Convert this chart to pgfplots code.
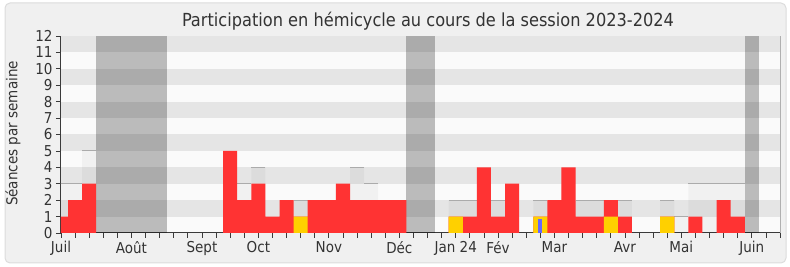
\documentclass[border=0pt]{standalone}
\usepackage{pgfplots}
\pgfplotsset{compat=1.18}
\usepackage{pgfplotstable}
\usepackage{fontspec}
\setmainfont{DejaVu Sans Condensed}
\definecolor{bgc}{HTML}{F0F0F0}
\definecolor{framec}{HTML}{DCDCDC}
\definecolor{txt}{HTML}{333333}
\definecolor{axc}{HTML}{3A3A3A}
\definecolor{stripeg}{HTML}{E5E5E5}
\definecolor{stripew}{HTML}{FAFAFA}
\definecolor{redbar}{HTML}{FF3333}
\definecolor{yelbar}{HTML}{FFD000}
\definecolor{blubar}{HTML}{6666FF}
\definecolor{linec}{HTML}{ABABAB}
% w: week index from 1 July 2023; tot: total seances; ln: visible top line of total
\pgfplotstableread{
w tot ln red yel blu
0 3 3 1 nan nan
1 3 3 2 nan nan
2 5 5 3 nan nan
12 5 nan 5 nan nan
13 3 3 2 nan nan
14 4 4 3 nan nan
15 1 nan 1 nan nan
16 2 nan 2 nan nan
17 2 2 1 1 nan
18 2 nan 2 nan nan
19 2 nan 2 nan nan
20 3 nan 3 nan nan
21 4 4 2 nan nan
22 3 3 2 nan nan
23 2 nan 2 nan nan
24 2 nan 2 nan nan
28 2 2 1 1 nan
29 2 2 1 nan nan
30 4 nan 4 nan nan
31 2 2 1 nan nan
32 3 nan 3 nan nan
34 2 2 1 1 0.85
35 2 nan 2 nan nan
36 4 nan 4 nan nan
37 2 2 1 nan nan
38 2 2 1 nan nan
39 2 nan 2 1 nan
40 2 2 1 nan nan
43 2 2 1 1 nan
44 1 1 nan nan nan
45 3 3 1 nan nan
46 3 3 nan nan nan
47 3 3 2 nan nan
48 3 3 1 nan nan
}\data
\begin{document}
\begin{tikzpicture}
\useasboundingbox (0pt,0pt) rectangle (790pt,267pt);
\fill[fill=bgc, draw=framec, rounded corners=5pt, line width=1pt] (5pt,4pt) rectangle (786pt,264pt);
\node[anchor=base, font=\fontsize{18}{21}\selectfont, text=txt, inner sep=0pt] at (428pt,240.5pt) {Participation en hémicycle au cours de la session 2023-2024};
\node[rotate=90, font=\fontsize{15}{18}\selectfont, text=txt, inner sep=0pt] at (13pt,133.5pt) {Séances par semaine};
\begin{axis}[
  at={(61pt,34pt)}, anchor=south west,
  scale only axis, width=719pt, height=197pt,
  xmin=0, xmax=51, ymin=0, ymax=12,
  axis x line*=bottom, axis y line*=left,
  axis line style={axc, line width=1pt},
  axis background/.style={fill=stripew},
  tick align=outside,
  ytick={0,...,12},
  xtick={0,5,10,14,19,24,28,31,35,40,44,49},
  xticklabels={Juil,Août,Sept,Oct,Nov,Déc,Jan 24,Fév,Mar,Avr,Mai,Juin},
  minor xtick={0,...,51},
  major tick length=5pt, minor tick length=5pt,
  every tick/.style={axc, line width=0.8pt},
  tick label style={font=\fontsize{15}{18}\selectfont, text=txt},
  /pgf/number format/assume math mode=true,
  clip marker paths=true,
]
\fill[stripeg] (axis cs:0,1) rectangle (axis cs:51,2);
\fill[stripeg] (axis cs:0,3) rectangle (axis cs:51,4);
\fill[stripeg] (axis cs:0,5) rectangle (axis cs:51,6);
\fill[stripeg] (axis cs:0,7) rectangle (axis cs:51,8);
\fill[stripeg] (axis cs:0,9) rectangle (axis cs:51,10);
\fill[stripeg] (axis cs:0,11) rectangle (axis cs:51,12);
% vacations
\addplot[ybar, bar width=5, bar shift=0pt, fill=black, fill opacity=0.25, draw=none] coordinates {(5,12)};
\addplot[ybar, bar width=2, bar shift=0pt, fill=black, fill opacity=0.25, draw=none] coordinates {(25.5,12)};
\addplot[ybar, bar width=1, bar shift=0pt, fill=black, fill opacity=0.25, draw=none] coordinates {(49,12)};
% total overlay
\addplot[ybar, bar width=1, bar shift=0pt, fill=black, fill opacity=0.035, draw=none] table[x=w,y=tot]{\data};
\addplot[only marks, mark=-, mark size=7.05pt, mark options={draw=linec, line width=1.1pt}] table[x=w,y=ln]{\data};
% presence
\addplot[ybar, bar width=1, bar shift=0pt, fill=redbar, draw=none] table[x=w,y=red]{\data};
% participation
\addplot[ybar, bar width=1, bar shift=0pt, fill=yelbar, draw=none] table[x=w,y=yel]{\data};
% questions
\addplot[ybar, bar width=0.3, bar shift=0pt, fill=blubar, draw=none] table[x=w,y=blu]{\data};
\end{axis}
\draw[framec!80!black, line width=0.8pt] (780pt,34pt) -- (780pt,231pt);
\end{tikzpicture}
\end{document}
